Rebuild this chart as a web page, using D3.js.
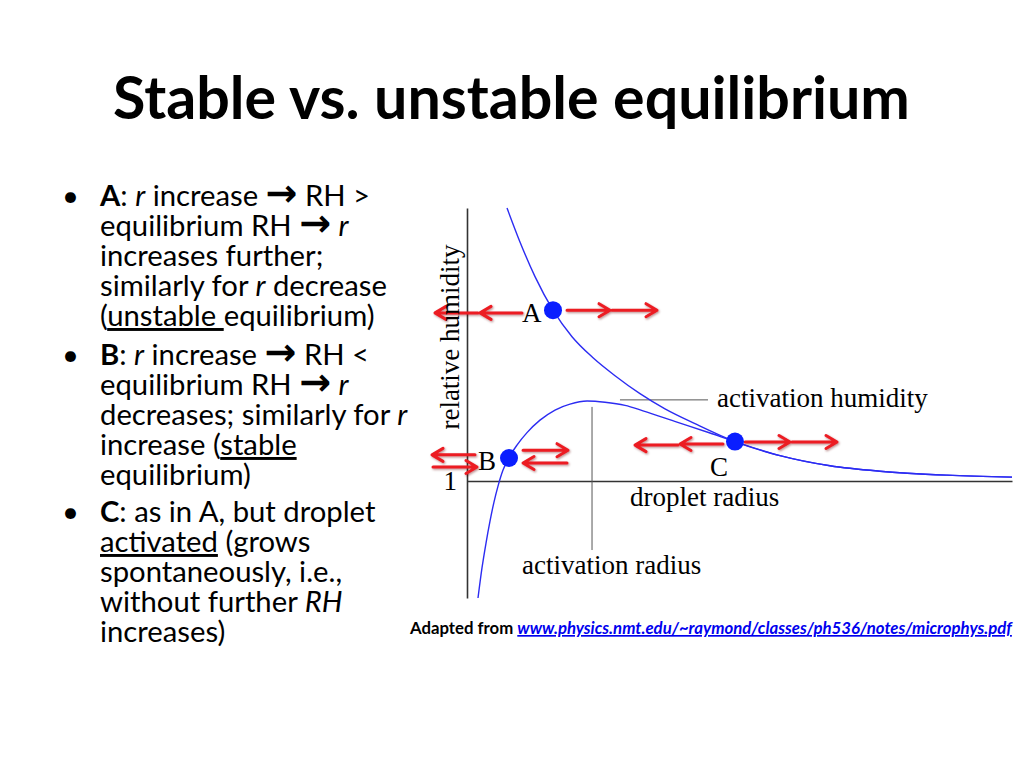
<!DOCTYPE html>
<html lang="en">
<head>
<meta charset="UTF-8">
<title>Stable vs. unstable equilibrium</title>
<script src="https://cdnjs.cloudflare.com/ajax/libs/d3/7.8.5/d3.min.js"></script>
<style>
    * { margin: 0; padding: 0; box-sizing: border-box; }
    body { background: #fff; width: 1024px; height: 768px; overflow: hidden; }
    svg { display: block; }
    .serif { font-family: 'Liberation Serif', 'Times New Roman', serif; font-size: 27px; fill: #000; }
    .body-text { font-family: Lato, 'Open Sans', sans-serif; fill: #000; white-space: pre; }
</style>
</head>
<body>
<div id="slide"></div>
<script>
    // Kelvin-type branch (upper, falling) : droplet radius (arb. units) vs relative humidity
    const kelvinR  = [0.734, 0.972, 1.248, 1.578, 1.927, 2.312, 2.716, 3.174, 3.633, 4.183, 4.917, 5.743, 6.661, 7.578, 8.807, 10.0];
    const kelvinRH = [1.0700, 1.0613, 1.0524, 1.0438, 1.0370, 1.0316, 1.0270, 1.0224, 1.0185, 1.0147, 1.0101, 1.0065, 1.0039, 1.0025, 1.0015, 1.0010];

    // Koehler curve (lower, with the maximum)
    const kohlerR  = [0.202, 0.275, 0.349, 0.422, 0.495, 0.569, 0.661, 0.771, 0.917, 1.101, 1.339, 1.615, 1.890, 2.202, 2.532, 2.899, 3.229, 3.853, 4.459, 4.917, 5.743, 6.661, 7.578, 8.807, 10.0];
    const kohlerRH = [0.9700, 0.9777, 0.9841, 0.9897, 0.9946, 0.9987, 1.0028, 1.0060, 1.0092, 1.0124, 1.0156, 1.0182, 1.0197, 1.0205, 1.0202, 1.0194, 1.0180, 1.0151, 1.0123, 1.0101, 1.0065, 1.0039, 1.0025, 1.0015, 1.0010];

    // equilibrium points
    const pointNames = ['A', 'B', 'C'];
    const pointR     = [1.578, 0.771, 4.917];
    const pointRH    = [1.0438, 1.0059, 1.0101];

    // red perturbation arrows (start radius -> end radius, at a humidity)
    const arrowFrom = [1.009, 0.202, 1.835, 2.661,   0.147, -0.624, 1.028, 1.835,   4.697, 3.872, 5.101, 5.963];
    const arrowTo   = [0.239, -0.587, 2.624, 3.486,  -0.642, 0.183, 1.853, 1.028,   3.908, 3.083, 5.927, 6.789];
    const arrowRH   = [1.0431, 1.0431, 1.0438, 1.0438, 1.0067, 1.0036, 1.0079, 1.0046, 1.0095, 1.0092, 1.0100, 1.0100];

    // activation radius / activation humidity markers
    const activationR = 2.294;
    const activationRSpan = [1.019, 0.9823];
    const activationRH = 1.0208;
    const activationRHSpan = [2.807, 4.422];

    const yTicks = [1];

    const titleText = 'Stable vs. unstable equilibrium';

    // bullet text: b = bold, i = italic, u = underline, a = arrow glyph
    const bullets = [
        [
            [{t: 'A', b: 1}, {t: ': '}, {t: 'r', i: 1}, {t: ' increase '}, {t: '\u2192', a: 1}, {t: ' RH >'}],
            [{t: 'equilibrium RH '}, {t: '\u2192', a: 1}, {t: ' '}, {t: 'r', i: 1}],
            [{t: 'increases further;'}],
            [{t: 'similarly for '}, {t: 'r', i: 1}, {t: ' decrease'}],
            [{t: '('}, {t: 'unstable ', u: 1}, {t: 'equilibrium)'}]
        ],
        [
            [{t: 'B', b: 1}, {t: ': '}, {t: 'r', i: 1}, {t: ' increase '}, {t: '\u2192', a: 1}, {t: ' RH <'}],
            [{t: 'equilibrium RH '}, {t: '\u2192', a: 1}, {t: ' '}, {t: 'r', i: 1}],
            [{t: 'decreases; similarly for '}, {t: 'r', i: 1}],
            [{t: 'increase ('}, {t: 'stable', u: 1}],
            [{t: 'equilibrium)'}]
        ],
        [
            [{t: 'C', b: 1}, {t: ': as in A, but droplet'}],
            [{t: 'activated', u: 1}, {t: ' (grows'}],
            [{t: 'spontaneously, i.e.,'}],
            [{t: 'without further '}, {t: 'RH', i: 1}],
            [{t: 'increases)'}]
        ]
    ];
    const bulletTop = [206, 365, 522];
    const lineStep = 30;

    const W = 1024, H = 768;
    const svg = d3.select('#slide').append('svg').attr('width', W).attr('height', H);

    const defs = svg.append('defs');
    defs.append('filter').attr('id', 'shadow')
        .attr('x', '-20%').attr('y', '-50%').attr('width', '140%').attr('height', '200%')
        .append('feDropShadow')
        .attr('dx', 1).attr('dy', 1.2).attr('stdDeviation', 0.8)
        .attr('flood-color', '#600').attr('flood-opacity', 0.45);

    function fitWidth(sel, target) {
        const size = parseFloat(sel.style('font-size'));
        const w = sel.node().getComputedTextLength();
        sel.style('font-size', (size * target / w) + 'px');
    }

    // title
    const title = svg.append('text')
        .attr('x', 511.5).attr('y', 119)
        .attr('text-anchor', 'middle')
        .style('font-family', 'Lato, sans-serif')
        .style('font-weight', 700)
        .style('font-size', '60px')
        .text(titleText);
    fitWidth(title, 797);

    // bullet list
    const textG = svg.append('g').attr('class', 'body-text').style('font-size', '30px');
    const allLines = [];
    bullets.forEach((block, bi) => {
        textG.append('text').attr('x', 62).attr('y', bulletTop[bi]).text('\u2022');
        block.forEach((segs, li) => {
            const t = textG.append('text').attr('x', 100).attr('y', bulletTop[bi] + li * lineStep);
            segs.forEach(s => {
                const ts = t.append('tspan')
                    .style('font-weight', s.b || s.a ? 700 : 400)
                    .style('font-style', s.i ? 'italic' : 'normal')
                    .style('text-decoration', s.u ? 'underline' : 'none')
                    .text(s.t);
                if (s.a) ts.style('font-family', "'DejaVu Sans', sans-serif").style('font-size', '1.3em');
            });
            allLines.push(t);
        });
    });
    // size the text so "similarly for r decrease" spans like the reference
    const refW = allLines[3].node().getComputedTextLength();
    textG.style('font-size', (30 * 287 / refW) + 'px');

    // chart
    const x = d3.scaleLinear().domain([0, 10]).range([467, 1012]);
    const y = d3.scaleLinear().domain([0.97, 1.07]).range([598, 208]);

    const xAxis = svg.append('g')
        .attr('transform', `translate(0,${y(1)})`)
        .call(d3.axisBottom(x).tickValues([]).tickSizeOuter(0));
    const yAxis = svg.append('g')
        .attr('transform', `translate(${x(0)},0)`)
        .call(d3.axisLeft(y).tickValues(yTicks).tickFormat(d3.format('d')).tickSize(0).tickPadding(10).tickSizeOuter(0));
    [xAxis, yAxis].forEach(a => {
        a.select('.domain').attr('stroke', '#333').attr('stroke-width', 1.6);
    });
    yAxis.selectAll('text')
        .attr('class', 'serif')
        .attr('font-family', null).attr('font-size', null);
    yAxis.attr('font-family', null).attr('font-size', null);

    // activation guides
    svg.append('line')
        .attr('x1', x(activationR)).attr('x2', x(activationR))
        .attr('y1', y(activationRSpan[0])).attr('y2', y(activationRSpan[1]))
        .attr('stroke', '#555').attr('stroke-width', 1);
    svg.append('line')
        .attr('x1', x(activationRHSpan[0])).attr('x2', x(activationRHSpan[1]))
        .attr('y1', y(activationRH)).attr('y2', y(activationRH))
        .attr('stroke', '#555').attr('stroke-width', 1);

    // curves
    const line = d3.line()
        .x(d => x(d[0]))
        .y(d => y(d[1]))
        .curve(d3.curveMonotoneX);
    const curves = [d3.zip(kelvinR, kelvinRH), d3.zip(kohlerR, kohlerRH)];
    svg.selectAll('.curve')
        .data(curves)
        .enter()
        .append('path')
        .attr('class', 'curve')
        .attr('d', line)
        .attr('fill', 'none')
        .attr('stroke', '#2c2cf2')
        .attr('stroke-width', 1.4);

    // arrows
    const arrows = d3.range(arrowFrom.length).map(i => ({from: arrowFrom[i], to: arrowTo[i], rh: arrowRH[i]}));
    const ag = svg.append('g').attr('filter', 'url(#shadow)')
        .attr('stroke', '#ec1c24').attr('stroke-width', 3)
        .attr('fill', 'none').attr('stroke-linecap', 'round').attr('stroke-linejoin', 'round');
    ag.selectAll('path')
        .data(arrows)
        .enter()
        .append('path')
        .attr('d', d => {
            const x0 = x(d.from), x1 = x(d.to), yy = y(d.rh);
            const dir = x1 > x0 ? 1 : -1;
            return `M${x0},${yy}H${x1}M${x1 - dir * 11},${yy - 6.5}L${x1},${yy}L${x1 - dir * 11},${yy + 6.5}`;
        });

    // equilibrium points and their letters
    const labelOffset = {A: [-31, 12], B: [-31, 12], C: [-25, 34]};
    const pts = d3.range(pointNames.length).map(i => ({name: pointNames[i], r: pointR[i], rh: pointRH[i]}));
    svg.selectAll('.pt')
        .data(pts)
        .enter()
        .append('circle')
        .attr('class', 'pt')
        .attr('cx', d => x(d.r)).attr('cy', d => y(d.rh))
        .attr('r', 9)
        .attr('fill', '#0a1eff');
    svg.selectAll('.pt-label')
        .data(pts)
        .enter()
        .append('text')
        .attr('class', 'serif pt-label')
        .attr('x', d => x(d.r) + labelOffset[d.name][0])
        .attr('y', d => y(d.rh) + labelOffset[d.name][1])
        .text(d => d.name);

    // axis titles and annotations
    svg.append('text').attr('class', 'serif').attr('x', 630).attr('y', 506).text('droplet radius');
    svg.append('text').attr('class', 'serif').attr('x', 522).attr('y', 574).text('activation radius');
    svg.append('text').attr('class', 'serif').attr('x', 717).attr('y', 407).text('activation humidity');
    svg.append('text').attr('class', 'serif')
        .attr('transform', 'translate(459,337) rotate(-90)')
        .attr('text-anchor', 'middle')
        .text('relative humidity');

    // source line
    const src = svg.append('text')
        .attr('x', 410).attr('y', 634)
        .style('font-family', 'Lato, sans-serif')
        .style('font-weight', 700)
        .style('font-size', '15px')
        .style('white-space', 'pre');
    src.append('tspan').attr('fill', '#000').text('Adapted from ');
    src.append('tspan')
        .attr('fill', '#0000ee')
        .style('font-style', 'italic')
        .style('text-decoration', 'underline')
        .text('www.physics.nmt.edu/~raymond/classes/ph536/notes/microphys.pdf');
    fitWidth(src, 602);
</script>
</body>
</html>
